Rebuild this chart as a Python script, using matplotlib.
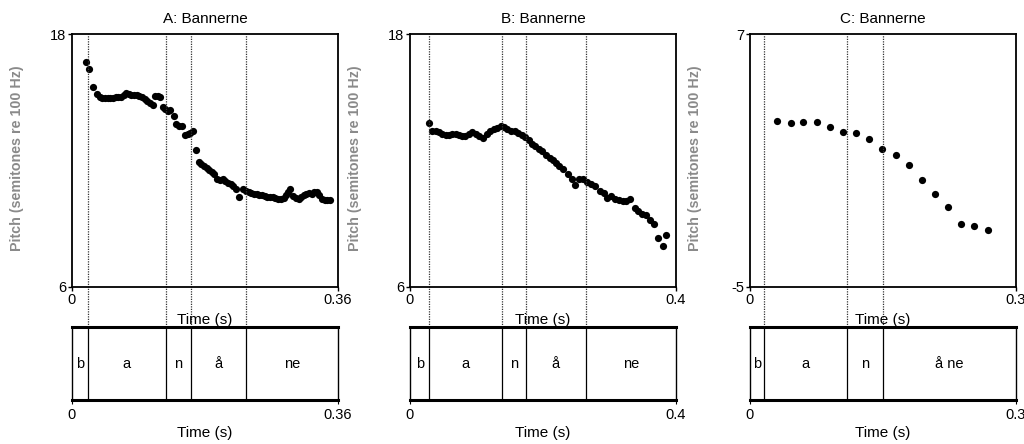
import matplotlib
matplotlib.use("Agg")
import matplotlib.pyplot as plt

plt.rcParams['font.family'] = ['Liberation Sans', 'DejaVu Sans']

# ---------------- data ----------------
titles = ["A: Bannerne", "B: Bannerne", "C: Bannerne"]
xmax = [0.36, 0.4, 0.3]
xmax_labels = ["0.36", "0.4", "0.3"]
ylims = [(6, 18), (6, 18), (-5, 7)]

a_time = [0.0185, 0.0235, 0.0289, 0.0338, 0.0374, 0.0411, 0.0447, 0.0483, 0.0519, 0.0555,
          0.0591, 0.0627, 0.0663, 0.0699, 0.0731, 0.0767, 0.0803, 0.0839, 0.0875, 0.0911,
          0.0947, 0.0983, 0.1020, 0.1056, 0.1092, 0.1123, 0.1159, 0.1195, 0.1227, 0.1263,
          0.1295, 0.1331, 0.1376, 0.1412, 0.1448, 0.1484, 0.1529, 0.1565, 0.1601, 0.1633,
          0.1674, 0.1714, 0.1750, 0.1786, 0.1823, 0.1859, 0.1895, 0.1926, 0.1962, 0.2003,
          0.2039, 0.2075, 0.2111, 0.2147, 0.2183, 0.2220, 0.2265, 0.2310, 0.2350, 0.2391,
          0.2427, 0.2463, 0.2499, 0.2535, 0.2571, 0.2607, 0.2644, 0.2680, 0.2716, 0.2752,
          0.2788, 0.2829, 0.2865, 0.2892, 0.2923, 0.2950, 0.2995, 0.3032, 0.3068, 0.3099,
          0.3135, 0.3171, 0.3207, 0.3244, 0.3275, 0.3311, 0.3347, 0.3383, 0.3420, 0.3456,
          0.3487]
a_pitch = [16.69, 16.33, 15.47, 15.17, 15.03, 14.97, 14.95, 14.95, 14.95, 14.97,
           14.99, 15.00, 15.03, 15.10, 15.19, 15.14, 15.13, 15.11, 15.10, 15.05,
           14.99, 14.91, 14.83, 14.75, 14.65, 15.08, 15.05, 14.99, 14.56, 14.45,
           14.37, 14.39, 14.09, 13.74, 13.66, 13.66, 13.19, 13.26, 13.32, 13.39,
           12.51, 11.94, 11.84, 11.75, 11.64, 11.53, 11.47, 11.37, 11.10, 11.09,
           11.10, 11.04, 10.93, 10.90, 10.79, 10.66, 10.27, 10.66, 10.55, 10.50,
           10.46, 10.42, 10.39, 10.36, 10.35, 10.31, 10.28, 10.27, 10.25, 10.22,
           10.19, 10.16, 10.24, 10.36, 10.49, 10.65, 10.33, 10.22, 10.16, 10.27,
           10.36, 10.42, 10.46, 10.42, 10.52, 10.49, 10.36, 10.16, 10.11, 10.11,
           10.11]

b_time = [0.0281, 0.0336, 0.0386, 0.0437, 0.0487, 0.0537, 0.0587, 0.0637, 0.0688, 0.0738,
          0.0788, 0.0833, 0.0883, 0.0933, 0.0989, 0.1044, 0.1104, 0.1154, 0.1205, 0.1260,
          0.1315, 0.1365, 0.1415, 0.1465, 0.1521, 0.1576, 0.1631, 0.1681, 0.1731, 0.1782,
          0.1837, 0.1887, 0.1942, 0.1992, 0.2048, 0.2098, 0.2148, 0.2198, 0.2248, 0.2299,
          0.2374, 0.2429, 0.2479, 0.2535, 0.2595, 0.2660, 0.2720, 0.2785, 0.2851, 0.2911,
          0.2961, 0.3021, 0.3077, 0.3137, 0.3197, 0.3252, 0.3312, 0.3378, 0.3433, 0.3488,
          0.3548, 0.3603, 0.3669, 0.3729, 0.3799, 0.3854]
b_pitch = [13.77, 13.42, 13.38, 13.33, 13.28, 13.22, 13.23, 13.27, 13.25, 13.22,
           13.17, 13.14, 13.27, 13.36, 13.27, 13.17, 13.09, 13.27, 13.38, 13.49,
           13.56, 13.66, 13.58, 13.49, 13.42, 13.39, 13.31, 13.23, 13.11, 12.95,
           12.79, 12.67, 12.54, 12.43, 12.27, 12.13, 12.00, 11.88, 11.73, 11.58,
           11.34, 11.10, 10.82, 11.10, 11.12, 10.98, 10.87, 10.80, 10.55, 10.44,
           10.20, 10.30, 10.19, 10.11, 10.06, 10.09, 10.16, 9.75, 9.60, 9.48,
           9.40, 9.19, 9.00, 8.34, 7.93, 8.48]

c_time = [0.0301, 0.0459, 0.0601, 0.0756, 0.0906, 0.1045, 0.1195, 0.1345, 0.1492,
          0.1643, 0.1793, 0.1943, 0.2090, 0.2236, 0.2380, 0.2526, 0.2688]
c_pitch = [2.86, 2.79, 2.83, 2.83, 2.60, 2.34, 2.30, 2.03, 1.56,
           1.25, 0.79, 0.09, -0.58, -1.21, -2.00, -2.09, -2.28]

a_bounds = [0.0212, 0.1272, 0.1606, 0.2355]
b_bounds = [0.0291, 0.1390, 0.1737, 0.2645]
c_bounds = [0.0158, 0.1094, 0.1500]

a_labels = ["b", "a", "n", "å", "ne"]
b_labels = ["b", "a", "n", "å", "ne"]
c_labels = ["b", "a", "n", "å ne"]

times = [a_time, b_time, c_time]
pitches = [a_pitch, b_pitch, c_pitch]
bounds = [a_bounds, b_bounds, c_bounds]
seg_labels = [a_labels, b_labels, c_labels]

# ---------------- layout ----------------
W, H = 1024, 444
fig = plt.figure(figsize=(W / 100, H / 100), dpi=100)

lefts_px = [72, 410, 750]
width_px = 266
top_px, bot_px = 34, 287
tier_top_px, tier_bot_px = 327, 400
FS = 10.5
FS_T = 11

for i in range(3):
    L = lefts_px[i] / W
    w = width_px / W
    ax = fig.add_axes([L, 1 - bot_px / H, w, (bot_px - top_px) / H])
    ax.plot(times[i], pitches[i], 'o', color='black', markersize=5.2,
            markeredgewidth=0)
    ax.set_xlim(0, xmax[i])
    ax.set_ylim(*ylims[i])
    ax.set_xticks([0, xmax[i]])
    ax.set_xticklabels(["0", xmax_labels[i]])
    ax.set_yticks(list(ylims[i]))
    ax.set_yticklabels([str(v) for v in ylims[i]])
    ax.tick_params(axis='both', direction='out', length=3, width=1,
                   labelsize=FS, pad=1)
    for s in ax.spines.values():
        s.set_linewidth(1.3)
    # dotted segment boundaries extending down to the tier
    ext = -(tier_top_px - bot_px) / (bot_px - top_px)
    ax.vlines(bounds[i], ext, 1, transform=ax.get_xaxis_transform(),
              colors='#333333', linestyles=(0, (1, 1)), linewidth=0.9,
              clip_on=False)
    cx = (lefts_px[i] + width_px / 2) / W
    fig.text(cx, 1 - 19 / H, titles[i], ha='center', va='center', fontsize=FS_T)
    fig.text(cx, 1 - 320 / H, "Time (s)", ha='center', va='center', fontsize=FS_T)
    fig.text((lefts_px[i] - 55) / W, 1 - 158 / H, "Pitch (semitones re 100 Hz)",
             rotation=90, ha='center', va='center', fontsize=10.3,
             color='#8a8a8a', fontweight='bold')

    # tier
    tx = fig.add_axes([L, 1 - tier_bot_px / H, w, (tier_bot_px - tier_top_px) / H])
    tx.set_xlim(0, xmax[i])
    tx.set_ylim(0, 1)
    tx.set_yticks([])
    tx.set_xticks([0, xmax[i]])
    tx.set_xticklabels(["0", xmax_labels[i]])
    tx.tick_params(axis='x', direction='out', length=3, labelsize=FS, pad=3)
    tx.spines['top'].set_linewidth(2.2)
    tx.spines['bottom'].set_linewidth(2.2)
    tx.spines['left'].set_linewidth(1.0)
    tx.spines['right'].set_linewidth(1.0)
    for b in bounds[i]:
        tx.axvline(b, color='black', linewidth=0.9)
    edges = [0] + bounds[i] + [xmax[i]]
    for k, lab in enumerate(seg_labels[i]):
        tx.text((edges[k] + edges[k + 1]) / 2, 0.5, lab, ha='center',
                va='center', fontsize=FS)
    fig.text(cx, 1 - 433 / H, "Time (s)", ha='center', va='center', fontsize=FS_T)

fig.savefig("out.png", dpi=100)
